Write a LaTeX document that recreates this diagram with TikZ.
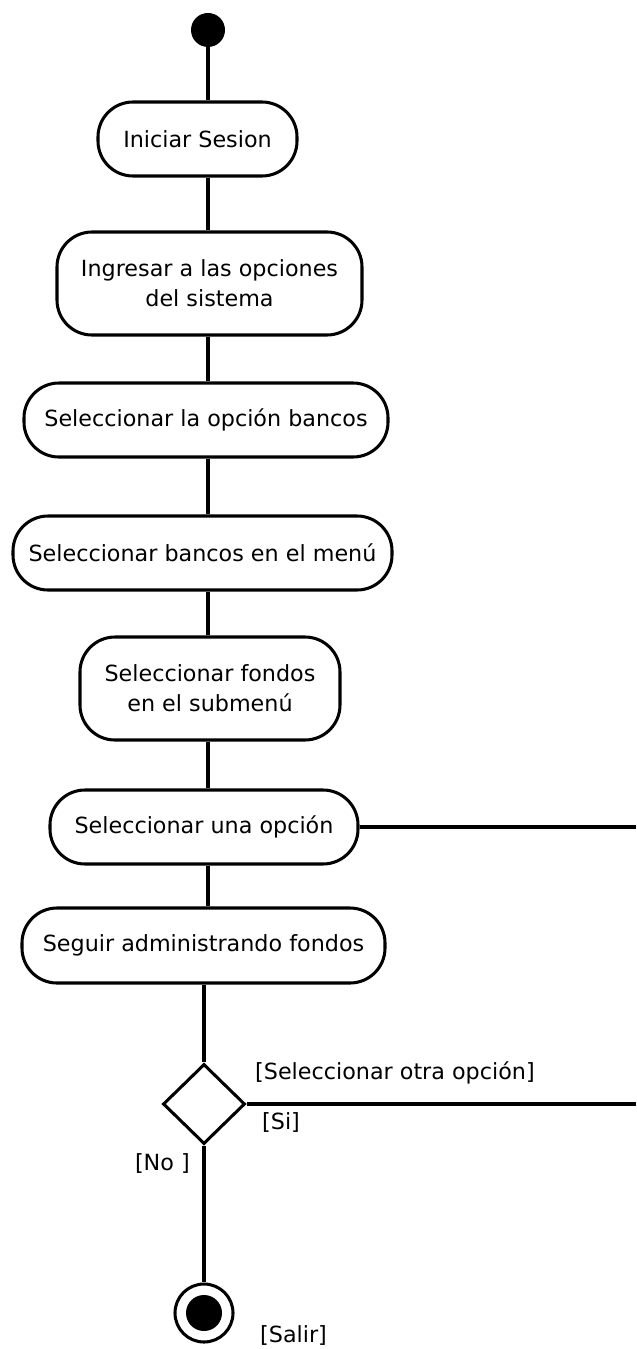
\documentclass[tikz,border=0pt]{standalone}
\usepackage{fontspec}
\setmainfont{DejaVu Sans}
\usetikzlibrary{shapes.geometric}

\tikzset{
	actividad/.style={draw, line width=2.6pt, rounded corners=1.05cm, inner sep=0pt,
		align=center, font=\fontsize{19}{25.5}\selectfont},
	guarda/.style={inner sep=0pt, font=\fontsize{19}{22}\selectfont},
	flujo/.style={line width=2.6pt}
}

\begin{document}
\begin{tikzpicture}[x=0.03cm,y=-0.03cm]
	\useasboundingbox (0,0) rectangle (636,1349);
	\coordinate (borde) at (636,0);

	% Inicio
	\node[circle, fill=black, inner sep=0pt, minimum size=1.02cm] (inicio) at (208,30) {};

	% Actividades
	\node[actividad, minimum width=5.97cm, minimum height=2.22cm] (sesion) at (197.5,139) {Iniciar Sesion};
	\node[actividad, minimum width=9.15cm, minimum height=3.09cm] (opciones) at (209.5,283.5) {Ingresar a las opciones\\del sistema};
	\node[actividad, minimum width=10.92cm, minimum height=2.22cm] (bancos) at (206,420) {Seleccionar la opción bancos};
	\node[actividad, minimum width=11.37cm, minimum height=2.22cm] (menu) at (202.5,553) {Seleccionar bancos en el menú};
	\node[actividad, minimum width=7.8cm, minimum height=3.09cm] (fondos) at (210,688.5) {Seleccionar fondos\\en el submenú};
	\node[actividad, minimum width=9.24cm, minimum height=2.22cm] (una) at (204,827) {Seleccionar una opción};
	\node[actividad, minimum width=10.89cm, minimum height=2.25cm] (seguir) at (203.5,945.5) {Seguir administrando fondos};

	% Decision y final
	\node[diamond, draw, line width=2.6pt, inner sep=0pt, minimum width=2.46cm, minimum height=2.4cm] (decision) at (204,1104) {};
	\node[circle, draw, line width=2.6pt, inner sep=0pt, minimum size=1.74cm] (final) at (204,1313) {};
	\node[circle, fill=black, inner sep=0pt, minimum size=1.08cm] (finalin) at (final) {};

	% Guardas
	\node[guarda, anchor=west] (otra) at (255,1073) {[Seleccionar otra opción]};
	\node[guarda, anchor=west] (si) at (262,1122) {[Si]};
	\node[guarda, anchor=east] (no) at (190,1163) {[No ]};
	\node[guarda, anchor=west] (salir) at (260,1335) {[Salir]};

	% Flujos
	\draw[flujo] (inicio) -- (inicio |- sesion.north);
	\draw[flujo] (sesion.south -| inicio) -- (opciones.north -| inicio);
	\draw[flujo] (opciones.south -| inicio) -- (bancos.north -| inicio);
	\draw[flujo] (bancos.south -| inicio) -- (menu.north -| inicio);
	\draw[flujo] (menu.south -| inicio) -- (fondos.north -| inicio);
	\draw[flujo] (fondos.south -| inicio) -- (una.north -| inicio);
	\draw[flujo] (una.south -| inicio) -- (seguir.north -| inicio);
	\draw[flujo] (seguir.south -| decision) -- (decision.north);
	\draw[flujo] (decision.south) -- (final.north);
	\draw[flujo] (una.east) -- (una.east -| borde);
	\draw[flujo] (decision.east) -- (decision.east -| borde);
\end{tikzpicture}
\end{document}
